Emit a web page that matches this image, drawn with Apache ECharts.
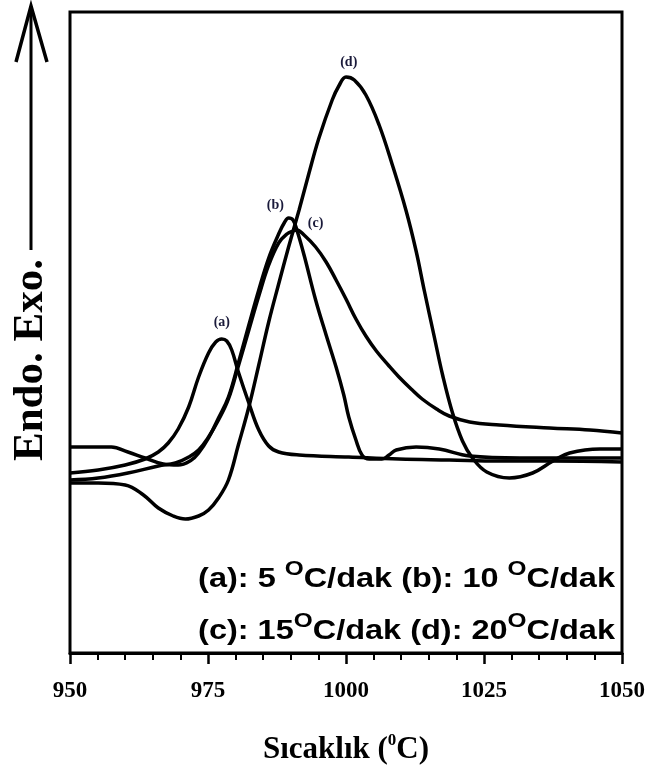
<!DOCTYPE html>
<html>
<head>
<meta charset="utf-8">
<script src="https://cdn.jsdelivr.net/npm/echarts@6/dist/echarts.min.js"></script>
<style>html,body{margin:0;padding:0;background:#fff}#c{width:648px;height:771px}</style>
</head>
<body>
<div id="c"></div>
<script>
// Temperature (°C) / relative DTA signal (arbitrary units)
var curveA = [[950,180],[955.1,183],[960,188],[963.6,194],[966,201],[967.8,210],[969.6,224],[971.5,246],[973.3,276],[975.1,300],[976.4,311],[977.5,314],[978.4,312],[979.3,303],[980.5,281],[982.4,250],[984.2,223],[986,207],[987.8,201],[991.5,198],[1000.5,196],[1009.6,194],[1018.7,193],[1027.8,192],[1036.9,192],[1050,191]];
var curveB = [[950,206],[955.1,206],[957.5,206],[960.5,201],[963.6,195],[966.9,189],[969.6,188],[972,193],[973.3,200],[975.1,215],[976.9,235],[978.7,256],[980.5,290],[982.4,328],[984.2,363],[986,395],[987.8,419],[988.9,431],[989.6,435],[990.4,433],[991.1,423],[992.4,398],[994.5,353],[996.4,318],[998.2,286],[999.6,258],[1000.5,236],[1001.8,213],[1002.9,198],[1004.2,194],[1006.5,194],[1007.8,198],[1009.1,203],[1012.7,206],[1016.9,204],[1022.4,197],[1031.5,195],[1050,195]];
var curveC = [[950,173],[955.1,175],[960.5,180],[966,187],[969.1,190],[971.5,196],[973.3,203],[975.1,216],[976.9,233],[978.7,254],[980.5,287],[982.4,323],[984.2,357],[986,388],[987.8,410],[989.3,419],[990.4,422],[991.1,423],[992.4,418],[994.5,406],[996.4,391],[998.2,373],[1000,354],[1001.8,334],[1003.6,317],[1005.5,302],[1007.8,287],[1009.6,276],[1011.8,264],[1013.8,254],[1016.4,244],[1018.7,237],[1022.4,231],[1027.8,228],[1036.9,225],[1044.2,223],[1050,220]];
var curveD = [[950,170],[955.1,170],[960,168],[963.3,158],[966,145],[968.7,137],[970.9,134],[973.3,137],[975.1,143],[976.9,155],[978.7,173],[980.5,208],[982.4,246],[984.2,288],[986,331],[987.8,369],[989.6,406],[991.5,443],[993.3,480],[995.1,515],[997.5,553],[998.7,567],[1000,576],[1001.5,573],[1003.6,558],[1006,528],[1008.4,488],[1010.9,442],[1012.7,402],[1014.2,362],[1016,316],[1017.5,278],[1019.3,240],[1021.1,212],[1022.9,195],[1025.5,181],[1029.6,175],[1033.8,180],[1037.5,192],[1040.5,200],[1046,204],[1050,204]];
var curveNames = ['(a)','(b)','(c)','(d)'];
var labelPos = [[977.5,331],[987.2,448],[994.5,430],[1000.5,591]];
var xTicks = [950,975,1000,1025,1050];
var legendLine1 = '(a): 5 {s|O}C/dak (b): 10 {s|O}C/dak';
var legendLine2 = '(c): 15{s|O}C/dak (d): 20{s|O}C/dak';

var chart = echarts.init(document.getElementById('c'), null, {renderer:'canvas'});
var curves = [curveA, curveB, curveC, curveD];
var series = curves.map(function(d, i){
  return {
    type:'line', data:d, smooth:0.4, showSymbol:false, symbol:'none',
    lineStyle:{color:'#000', width:3.5}, silent:true, z:2,
    markPoint:{
      symbol:'circle', symbolSize:0, silent:true,
      data:[{coord:labelPos[i]}],
      label:{show:true, position:'inside', formatter:curveNames[i],
        fontFamily:'"Liberation Serif","Times New Roman",serif', fontWeight:'bold', fontSize:14, color:'#1a1a3a'}
    }
  };
});
var supRich = {
  s:{fontSize:21, fontFamily:'"Liberation Sans",Arial,sans-serif', fontWeight:'bold', color:'#000', verticalAlign:'top', lineHeight:40}
};
var serif = '"Liberation Serif","Times New Roman",serif';
chart.setOption({
  animation:false,
  backgroundColor:'#fff',
  grid:{left:70, right:26, top:12, bottom:118, show:true, borderColor:'#000', borderWidth:3, backgroundColor:'transparent'},
  xAxis:{
    type:'value', min:950, max:1050, interval:25,
    axisLine:{show:true, onZero:false, lineStyle:{color:'#000', width:3}},
    axisTick:{show:true, inside:false, length:11, lineStyle:{color:'#000', width:2.5}},
    minorTick:{show:true, splitNumber:5, length:7, lineStyle:{color:'#000', width:2}},
    splitLine:{show:false},
    axisLabel:{margin:27, color:'#000', fontSize:23, fontWeight:'bold', fontFamily:serif,
      formatter:function(v){ return xTicks.indexOf(v) >= 0 ? String(v) : ''; }},
    name:'Sıcaklık ({s|0}C)', nameLocation:'middle', nameGap:79,
    nameTextStyle:{color:'#000', fontSize:31, fontWeight:'bold', fontFamily:serif,
      rich:{s:{fontSize:17, fontWeight:'bold', fontFamily:serif, color:'#000', verticalAlign:'top', lineHeight:36}}}
  },
  yAxis:{type:'value', min:0, max:641, show:false},
  series:series,
  graphic:[
    {type:'text', x:615, y:579, scaleX:1.16, z:10, style:{text:legendLine1, align:'right', verticalAlign:'middle',
      fontSize:28, fontWeight:'bold', fontFamily:'"Liberation Sans",Arial,sans-serif', fill:'#000', lineHeight:40, rich:supRich}},
    {type:'text', x:615, y:631, scaleX:1.16, z:10, style:{text:legendLine2, align:'right', verticalAlign:'middle',
      fontSize:28, fontWeight:'bold', fontFamily:'"Liberation Sans",Arial,sans-serif', fill:'#000', lineHeight:40, rich:supRich}},
    {type:'text', x:31, y:360, rotation:Math.PI/2, z:10, style:{text:'Endo. Exo.', align:'center', verticalAlign:'middle',
      fontSize:43, fontWeight:'bold', fontFamily:serif, fill:'#000'}},
    {type:'line', z:10, shape:{x1:31, y1:250, x2:31, y2:6}, style:{stroke:'#000', lineWidth:3}},
    {type:'polyline', z:10, shape:{points:[[16,62],[31,6],[47,62]]}, style:{stroke:'#000', lineWidth:3.5, fill:null}}
  ]
});
</script>
</body>
</html>
